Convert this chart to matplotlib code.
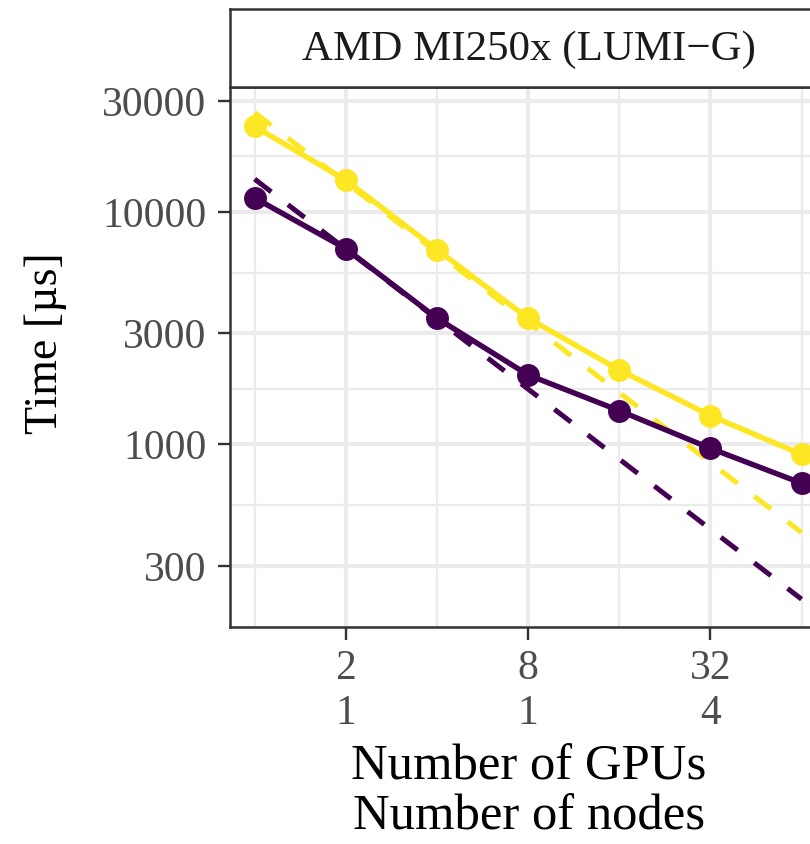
"""Strong scaling on AMD MI250x (LUMI-G): measured vs ideal time."""
import matplotlib
matplotlib.use('Agg')
import matplotlib.pyplot as plt
from matplotlib.ticker import NullFormatter

plt.rcParams['font.family'] = ['Liberation Serif', 'DejaVu Serif']

# ---------------------------------------------------------------------------
# data
# ---------------------------------------------------------------------------
gpus = [1, 2, 4, 8, 16, 32, 64]
time_yellow = [23300, 13700, 6880, 3490, 2090, 1330, 906]
time_purple = [11480, 6950, 3490, 1990, 1397, 962, 681]
ideal_yellow = [26750, 13375, 6690, 3345, 1670, 836, 418]
ideal_purple = [13840, 6920, 3460, 1730, 865, 432, 216]

xticks = [2, 8, 32]
xtick_labels = ['2\n1', '8\n1', '32\n4']
xminor = [1, 4, 16, 64]
yticks = [300, 1000, 3000, 10000, 30000]
ytick_labels = ['300', '1000', '3000', '10000', '30000']
yminor = [164, 548, 1732, 5477, 17320]

strip_title = 'AMD MI250x (LUMI\u2212G)'

PURPLE = '#440154'
YELLOW = '#FDE725'
GRID = '#EBEBEB'
DARK = '#333333'
TICKC = '#4D4D4D'

W, H = 810, 844
fig = plt.figure(figsize=(W / 100, H / 100), dpi=100)

# panel geometry in pixels (right edge runs past the picture, as in the crop)
L, R, T, B = 230, 828, 87, 627
ax = fig.add_axes([L / W, (H - B) / H, (R - L) / W, (B - T) / H])
ax.set_xscale('log', base=2)
ax.set_yscale('log')
ax.set_xlim(2 ** -0.27, 2 ** 6.29)
ax.set_ylim(173, 34440)

ax.set_xticks(xticks)
ax.set_xticklabels(xtick_labels)
ax.set_xticks(xminor, minor=True)
ax.set_yticks(yticks)
ax.set_yticklabels(ytick_labels)
ax.set_yticks(yminor, minor=True)
ax.xaxis.set_minor_formatter(NullFormatter())
ax.yaxis.set_minor_formatter(NullFormatter())

for v in xticks:
    ax.axvline(v, color=GRID, lw=3.0, zorder=0)
for v in xminor:
    ax.axvline(v, color=GRID, lw=1.6, zorder=0)
for v in yticks:
    ax.axhline(v, color=GRID, lw=3.0, zorder=0)
for v in yminor:
    ax.axhline(v, color=GRID, lw=1.6, zorder=0)

ax.tick_params(which='major', length=9, width=1.7, color=DARK,
               labelsize=30, labelcolor=TICKC)
ax.tick_params(axis='x', which='major', pad=7)
ax.tick_params(axis='y', which='major', pad=8)
ax.tick_params(which='minor', length=0)
for lab in ax.get_xticklabels():
    lab.set_linespacing(1.22)
for s in ax.spines.values():
    s.set_color(DARK)
    s.set_linewidth(1.8)

dash = (0, (4.2, 4.2))
ax.plot(gpus, ideal_yellow, color=YELLOW, lw=3.6, ls=dash, zorder=2)
ax.plot(gpus, ideal_purple, color=PURPLE, lw=3.6, ls=dash, zorder=2)
ax.plot(gpus, time_yellow, color=YELLOW, lw=3.9, marker='o', ms=15.5, zorder=3)
ax.plot(gpus, time_purple, color=PURPLE, lw=3.9, marker='o', ms=15.5, zorder=3)

# facet strip
sx = fig.add_axes([L / W, (H - T) / H, (R - L) / W, (T - 9) / H])
sx.set_xticks([])
sx.set_yticks([])
for s in sx.spines.values():
    s.set_color(DARK)
    s.set_linewidth(1.8)
sx.text(0.5, 0.48, strip_title, ha='center', va='center', fontsize=31,
        color='#1A1A1A', transform=sx.transAxes)

fig.text((L + R) / 2 / W, 3 / H, 'Number of GPUs\nNumber of nodes',
         ha='center', va='bottom', fontsize=36.5, linespacing=1.1)
fig.text(46 / W, (H - 343) / H, 'Time [\u00b5s]', rotation=90,
         ha='center', va='center', fontsize=33)

fig.savefig('out.png', dpi=100)
print('wrote out.png')
